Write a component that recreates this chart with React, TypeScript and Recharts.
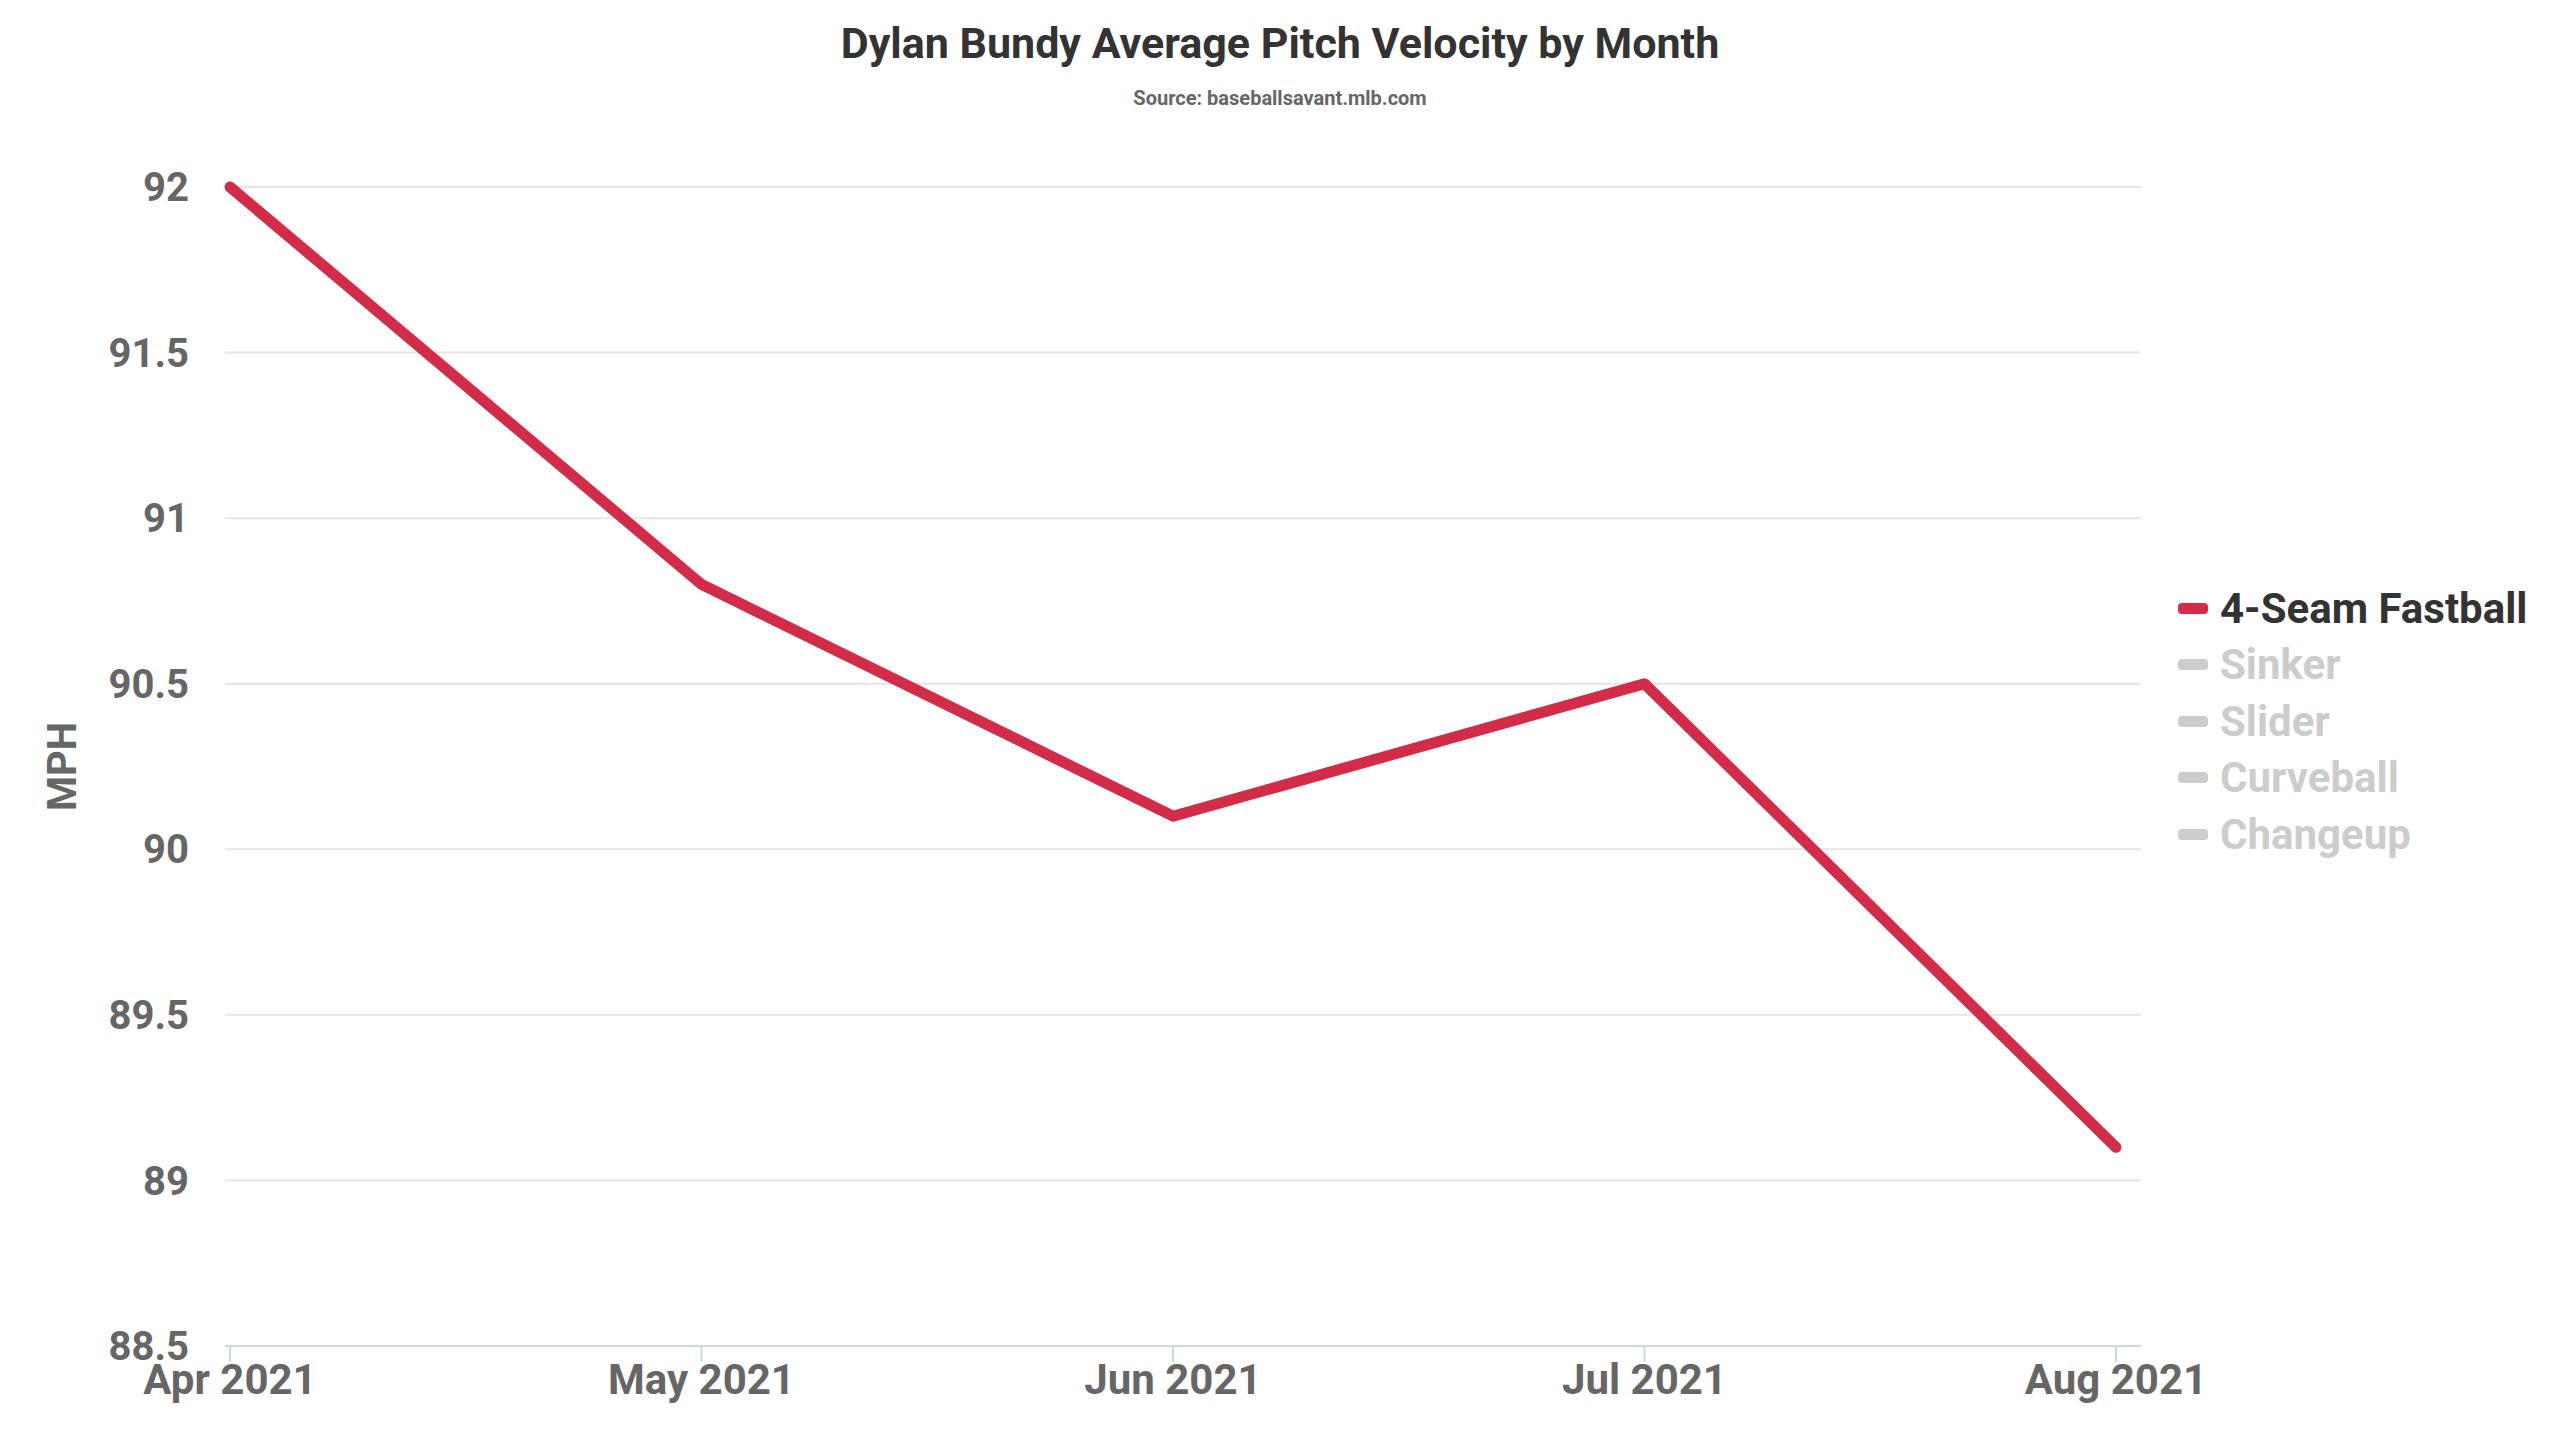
import React from 'react';
import { LineChart, Line, XAxis, YAxis, CartesianGrid, Label } from 'recharts';

const months = ['Apr 2021', 'May 2021', 'Jun 2021', 'Jul 2021', 'Aug 2021'];
const fastball = [92, 90.8, 90.1, 90.5, 89.1];
const yTicks = [88.5, 89, 89.5, 90, 90.5, 91, 91.5, 92];
const legendItems = [
  { name: '4-Seam Fastball', active: true },
  { name: 'Sinker', active: false },
  { name: 'Slider', active: false },
  { name: 'Curveball', active: false },
  { name: 'Changeup', active: false },
];

const data = months.map((m, i) => ({ month: m, fastball: fastball[i] }));
const FONT = '"Liberation Sans Narrow", "Roboto", sans-serif';

export default function App() {
  return (
    <div style={{ position: 'absolute', left: 0, top: 0, width: 2560, height: 1440, background: '#fff', fontFamily: FONT }}>
      <div style={{ position: 'absolute', top: 18, width: 2560, textAlign: 'center', fontSize: 43, fontWeight: 'bold', color: '#333' }}>
        Dylan Bundy Average Pitch Velocity by Month
      </div>
      <div style={{ position: 'absolute', top: 86, width: 2560, textAlign: 'center', fontSize: 20, fontWeight: 'bold', color: '#666' }}>
        Source: baseballsavant.mlb.com
      </div>
      <LineChart width={2560} height={1440} data={data} margin={{ top: 187, right: 419, left: 0, bottom: 0 }}>
        <CartesianGrid vertical={false} stroke="#e6e6e6" strokeWidth={2} />
        <XAxis dataKey="month" height={94} padding={{ left: 5, right: 25 }} interval={0}
          axisLine={{ stroke: '#ccd6eb', strokeWidth: 2 }} tickLine={{ stroke: '#ccd6eb', strokeWidth: 2 }} tickSize={16}
          tick={{ fontSize: 42, fontWeight: 'bold', fill: '#666', fontFamily: FONT }} />
        <YAxis domain={[88.5, 92]} ticks={yTicks} width={225} axisLine={false} tickLine={false} tickMargin={30}
          tick={{ fontSize: 40, fontWeight: 'bold', fill: '#666', fontFamily: FONT }}>
          <Label value="MPH" angle={-90} position="insideLeft" offset={62}
            style={{ fontSize: 40, fontWeight: 'bold', fill: '#666', fontFamily: FONT, textAnchor: 'middle' }} />
        </YAxis>
        <Line dataKey="fastball" stroke="#d22c48" strokeWidth={11} dot={false} isAnimationActive={false} strokeLinejoin="round" strokeLinecap="round" />
      </LineChart>
      <div style={{ position: 'absolute', left: 2178, top: 580, fontWeight: 'bold', fontSize: 42 }}>
        {legendItems.map((it) => (
          <div key={it.name} style={{ display: 'flex', alignItems: 'center', height: 56.5, color: it.active ? '#333333' : '#cccccc' }}>
            <span style={{ display: 'inline-block', width: 30, height: 11, borderRadius: 4, background: it.active ? '#d22c48' : '#cccccc', marginRight: 12 }} />
            {it.name}
          </div>
        ))}
      </div>
    </div>
  );
}
